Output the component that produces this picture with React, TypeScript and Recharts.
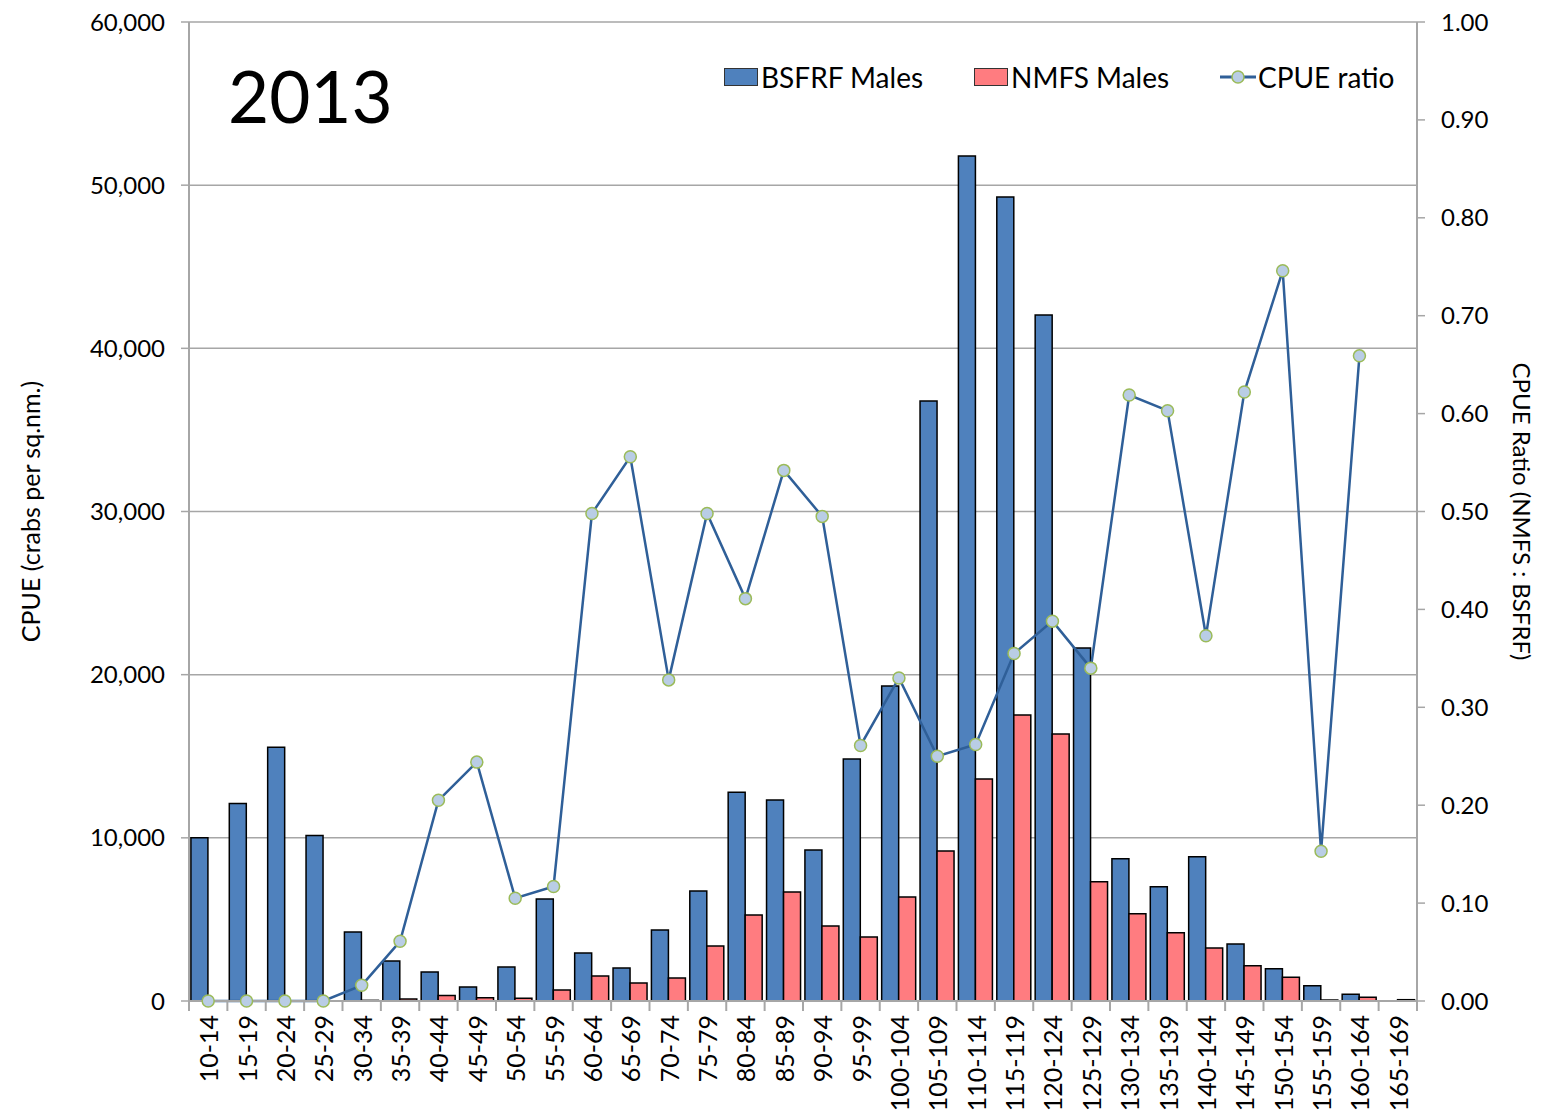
import React from "react";
import {
  ComposedChart,
  Bar,
  Line,
  XAxis,
  YAxis,
  CartesianGrid,
} from "recharts";

const sizeClasses = [
  "10-14", "15-19", "20-24", "25-29", "30-34", "35-39", "40-44", "45-49",
  "50-54", "55-59", "60-64", "65-69", "70-74", "75-79", "80-84", "85-89",
  "90-94", "95-99", "100-104", "105-109", "110-114", "115-119", "120-124",
  "125-129", "130-134", "135-139", "140-144", "145-149", "150-154",
  "155-159", "160-164", "165-169",
];

const bsfrfMales = [
  10000, 12100, 15550, 10150, 4230, 2450, 1780, 860, 2080, 6250, 2940, 2020,
  4350, 6740, 12800, 12320, 9250, 14830, 19300, 36770, 51790, 49270, 42040,
  21630, 8720, 7000, 8840, 3490, 1980, 940, 410, 0,
];

const nmfsMales = [
  0, 0, 0, 0, 40, 120, 330, 200, 170, 670, 1530, 1100, 1410, 3370, 5270,
  6680, 4600, 3920, 6370, 9190, 13600, 17530, 16360, 7310, 5350, 4190, 3250,
  2160, 1450, 60, 230, 80,
];

const cpueRatio: (number | null)[] = [
  0, 0, 0, 0, 0.016, 0.061, 0.205, 0.244, 0.105, 0.117, 0.498, 0.556, 0.328,
  0.498, 0.411, 0.542, 0.495, 0.261, 0.33, 0.25, 0.262, 0.355, 0.388, 0.34,
  0.619, 0.603, 0.373, 0.622, 0.746, 0.153, 0.659, null,
];

const leftTicks = [0, 10000, 20000, 30000, 40000, 50000, 60000];
const rightTicks = [0, 0.1, 0.2, 0.3, 0.4, 0.5, 0.6, 0.7, 0.8, 0.9, 1.0];

const data = sizeClasses.map((size, i) => ({
  size,
  bsfrf: bsfrfMales[i],
  nmfs: nmfsMales[i],
  ratio: cpueRatio[i],
}));

const FONT = "Lato, 'Open Sans', sans-serif";
const BLUE = "#4F81BD";
const RED = "#FF7C80";
const LINE = "#2F5F98";
const GRID = "#A6A6A6";

const WIDTH = 1535;
const HEIGHT = 1105;
const MARGIN = { top: 14, right: 0, bottom: 0, left: 0 };
const LEFT_W = 181;
const RIGHT_W = 126;
const BAND = (WIDTH - LEFT_W - RIGHT_W) / sizeClasses.length;

function SizeTick(props: any) {
  const { x, y, payload, index } = props;
  const isLast = index === sizeClasses.length - 1;
  return (
    <g>
      <line x1={x - BAND / 2} x2={x - BAND / 2} y1={y - 8} y2={y + 2} stroke={GRID} strokeWidth={2} />
      {isLast && (
        <line x1={x + BAND / 2} x2={x + BAND / 2} y1={y - 8} y2={y + 2} stroke={GRID} strokeWidth={2} />
      )}
      <text
        x={x}
        y={y + 6}
        transform={`rotate(-90, ${x}, ${y + 6})`}
        textAnchor="end"
        dominantBaseline="central"
        fontSize={25}
        fontFamily={FONT}
        fill="#000"
      >
        {payload.value}
      </text>
    </g>
  );
}

// axis titles sit at fixed x, centred on the plot height
function LeftLabel(props: any) {
  const { viewBox } = props;
  const cy = viewBox.y + viewBox.height / 2;
  const cx = 22;
  return (
    <text
      x={cx}
      y={cy}
      transform={`rotate(-90, ${cx}, ${cy})`}
      textAnchor="middle"
      dominantBaseline="central"
      fontSize={25}
      fontFamily={FONT}
      fill="#000"
    >
      CPUE (crabs per sq.nm.)
    </text>
  );
}

function RightLabel(props: any) {
  const { viewBox } = props;
  const cy = viewBox.y + viewBox.height / 2;
  const cx = 1514;
  return (
    <text
      x={cx}
      y={cy}
      transform={`rotate(90, ${cx}, ${cy})`}
      textAnchor="middle"
      dominantBaseline="central"
      fontSize={24}
      fontFamily={FONT}
      fill="#000"
    >
      CPUE Ratio (NMFS : BSFRF)
    </text>
  );
}

function LegendOverlay() {
  const item: React.CSSProperties = {
    position: "absolute",
    top: 52,
    display: "flex",
    alignItems: "center",
    fontFamily: FONT,
    fontSize: 28,
    color: "#000",
    whiteSpace: "nowrap",
  };
  const swatch = (c: string): React.CSSProperties => ({
    width: 32,
    height: 16,
    background: c,
    border: "1px solid #333",
    marginRight: 3,
  });
  return (
    <>
      <div style={{ ...item, left: 716 }}>
        <span style={swatch(BLUE)} />
        BSFRF Males
      </div>
      <div style={{ ...item, left: 966 }}>
        <span style={swatch(RED)} />
        NMFS Males
      </div>
      <div style={{ ...item, left: 1212 }}>
        <svg width={36} height={20} style={{ marginRight: 2 }}>
          <line x1={0} x2={36} y1={10} y2={10} stroke={LINE} strokeWidth={3} />
          <circle cx={18} cy={10} r={6} fill="#B9CDE5" stroke="#9BBB59" strokeWidth={1.5} />
        </svg>
        CPUE ratio
      </div>
    </>
  );
}

export default function App() {
  return (
    <div style={{ position: "relative", width: WIDTH, height: HEIGHT }}>
      <ComposedChart
        width={WIDTH}
        height={HEIGHT}
        data={data}
        margin={MARGIN}
        barCategoryGap="5%"
        barGap={0}
      >
        <CartesianGrid horizontal vertical={false} stroke={GRID} strokeWidth={1.5} yAxisId="left" />
        <XAxis
          dataKey="size"
          interval={0}
          height={112}
          tick={<SizeTick />}
          tickLine={false}
          axisLine={{ stroke: GRID, strokeWidth: 2 }}
        />
        <YAxis
          yAxisId="left"
          width={LEFT_W}
          domain={[0, 60000]}
          ticks={leftTicks}
          interval={0}
          tickFormatter={(v: number) => v.toLocaleString("en-US")}
          tick={{ fontSize: 24, fontFamily: FONT, fill: "#000" }}
          tickLine={{ stroke: GRID, strokeWidth: 1.5 }}
          tickSize={8}
          tickMargin={16}
          axisLine={{ stroke: GRID, strokeWidth: 2 }}
          label={<LeftLabel />}
        />
        <YAxis
          yAxisId="right"
          orientation="right"
          width={RIGHT_W}
          domain={[0, 1]}
          ticks={rightTicks}
          interval={0}
          tickFormatter={(v: number) => v.toFixed(2)}
          tick={{ fontSize: 24, fontFamily: FONT, fill: "#000" }}
          tickLine={{ stroke: GRID, strokeWidth: 1.5 }}
          tickSize={8}
          tickMargin={16}
          axisLine={{ stroke: GRID, strokeWidth: 2 }}
          label={<RightLabel />}
        />
        <Bar yAxisId="left" dataKey="bsfrf" fill={BLUE} stroke="#000" strokeWidth={1.5} isAnimationActive={false} />
        <Bar yAxisId="left" dataKey="nmfs" fill={RED} stroke="#000" strokeWidth={1.5} isAnimationActive={false} />
        <Line
          yAxisId="right"
          dataKey="ratio"
          stroke={LINE}
          strokeWidth={2.5}
          dot={{ r: 6, fill: "#B9CDE5", stroke: "#9BBB59", strokeWidth: 1.5 }}
          connectNulls={false}
          isAnimationActive={false}
        />
      </ComposedChart>
      <div
        style={{
          position: "absolute",
          left: 220,
          top: 52,
          fontFamily: FONT,
          fontSize: 71,
          color: "#000",
          lineHeight: 1,
        }}
      >
        2013
      </div>
      <LegendOverlay />
    </div>
  );
}
